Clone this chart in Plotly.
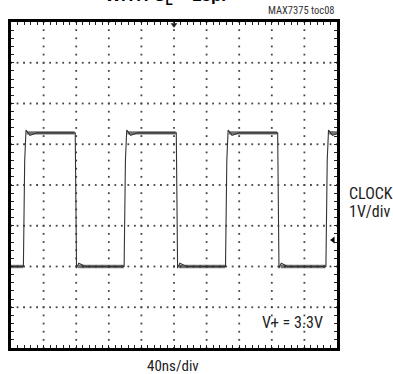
import plotly.graph_objects as go

# ---- data (divisions; 40ns/div horizontally, 1V/div vertically) ----
rise_times = [0.40, 3.49, 6.60, 9.68]     # rising edges (div)
fall_times = [1.98, 5.08, 8.19]           # falling edges (div)
low_level = 2.00                           # 0V level (div)
high_level = 5.28                          # 3.3V level (div)
ground_marker = 2.65                       # right-edge marker (div)
trigger_pos = 5.0                          # top trigger marker (div)

W, H = 393, 374
L, R, T, B = 11, 337, 22, 348
PW, PH = R - L, B - T

def px_x(X):
    return (X - L) / PW

def px_y(Y):
    return (B - Y) / PH

# ---- build trace from edges ----
edges = sorted([(t, 'r') for t in rise_times] + [(t, 'f') for t in fall_times])
xs, ys = [0.0], [low_level]
for t, kind in edges:
    if kind == 'r':
        xs += [t - 0.02, t + 0.02, t + 0.06, t + 0.18, t + 0.40]
        ys += [low_level, low_level + 2.6, high_level + 0.07, high_level - 0.06, high_level]
    else:
        xs += [t - 0.01, t + 0.03, t + 0.10, t + 0.30]
        ys += [high_level, low_level - 0.04, low_level + 0.08, low_level]
xs.append(10.0)
ys.append(high_level)

# noise band on flat portions
bx, by = [], []
prev_t, level = 0.0, low_level
for t, kind in edges:
    bx += [prev_t, t - 0.03, None]
    by += [level, level, None]
    prev_t = t + 0.08
    level = high_level if kind == 'r' else low_level
bx += [prev_t, 10.0]
by += [level, level]

# ---- grid dots ----
gx, gy = [], []
for i in range(1, 10):
    for k in range(0, 41):
        gx.append(i)
        gy.append(k * 0.2)
for j in range(1, 8):
    for k in range(0, 51):
        gx.append(k * 0.2)
        gy.append(j)

fig = go.Figure()
fig.add_trace(go.Scatter(x=gx, y=gy, mode='markers',
                         marker=dict(symbol='square', size=1.8, color='#444'),
                         hoverinfo='skip', showlegend=False))
fig.add_trace(go.Scatter(x=bx, y=by, mode='lines',
                         line=dict(color='rgba(20,20,20,0.6)', width=3.4),
                         hoverinfo='skip', showlegend=False))
fig.add_trace(go.Scatter(x=xs, y=ys, mode='lines',
                         line=dict(color='#333', width=1.1),
                         hoverinfo='skip', showlegend=False))
# markers
fig.add_trace(go.Scatter(x=[9.88], y=[ground_marker], mode='markers',
                         marker=dict(symbol='triangle-left', size=6, color='black'),
                         cliponaxis=False, hoverinfo='skip', showlegend=False))
fig.add_trace(go.Scatter(x=[trigger_pos], y=[7.93], mode='markers',
                         marker=dict(symbol='triangle-down', size=6, color='#222'),
                         cliponaxis=False, hoverinfo='skip', showlegend=False))

axis_common = dict(showgrid=False, zeroline=False, showline=True, linewidth=3,
                   linecolor='black', mirror='ticks', ticks='inside', tick0=0,
                   dtick=0.2, ticklen=3, tickwidth=1, tickcolor='#222',
                   showticklabels=False, fixedrange=True)
fig.update_xaxes(range=[0, 10], **axis_common)
fig.update_yaxes(range=[0, 8], **axis_common)

font_n = "Liberation Sans Narrow, Roboto Condensed, Arial Narrow, Liberation Sans, sans-serif"
ann = [
    dict(text="<b>WITH C<sub>L</sub> = 15pF</b>", x=px_x(168), y=px_y(10),
         xanchor='center', yanchor='bottom', font=dict(size=17, color='black', family="Liberation Sans, Arial, sans-serif")),
    dict(text="MAX7375 toc08", x=px_x(337), y=px_y(19.5), xanchor='right', yanchor='bottom',
         font=dict(size=10.5, color='#333', family=font_n)),
    dict(text="CLOCK", x=px_x(347), y=px_y(193), xanchor='left', yanchor='middle',
         font=dict(size=16, color='#222', family=font_n)),
    dict(text="1V/div", x=px_x(347), y=px_y(211), xanchor='left', yanchor='middle',
         font=dict(size=16, color='#222', family=font_n)),
    dict(text="V+ = 3.3V", x=px_x(292), y=px_y(322), xanchor='center', yanchor='middle',
         font=dict(size=16, color='#222', family=font_n)),
    dict(text="40ns/div", x=px_x(173), y=px_y(366), xanchor='center', yanchor='middle',
         font=dict(size=15, color='#222', family=font_n)),
]
for a in ann:
    a.update(xref='paper', yref='paper', showarrow=False)

fig.update_layout(width=W, height=H, margin=dict(l=L, r=W - R, t=T, b=H - B),
                  paper_bgcolor='white', plot_bgcolor='white',
                  annotations=ann, showlegend=False)

fig.write_html("out.html", config=dict(displayModeBar=False))
